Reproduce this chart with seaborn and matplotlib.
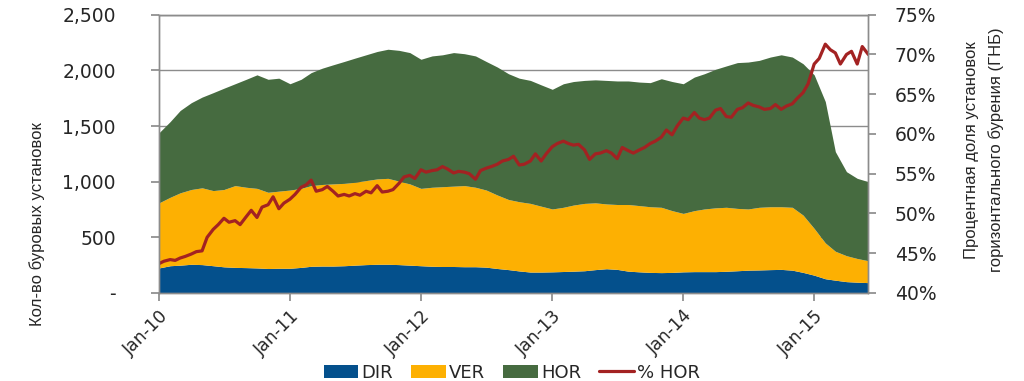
import pandas as pd
import matplotlib
matplotlib.use('Agg')
import matplotlib.pyplot as plt
import matplotlib.dates as mdates
import matplotlib.ticker as mticker
import seaborn as sns

# Monthly rig counts, Jan 2010 - Jun 2015
months = pd.date_range('2010-01-01', '2015-06-01', freq='MS')

dir_rigs = [225, 245, 250, 258, 255, 245, 235, 230, 228, 225, 220, 222,
            222, 230, 240, 242, 242, 245, 250, 255, 258, 258, 255, 250,
            245, 240, 238, 238, 236, 236, 232, 220, 210, 198, 188, 188,
            190, 193, 196, 200, 210, 218, 212, 196, 190, 185, 183, 185,
            190, 192, 192, 192, 195, 200, 205, 207, 210, 212, 205, 185,
            160, 128, 115, 102, 97, 93]

ver_rigs = [585, 615, 650, 672, 690, 675, 695, 735, 722, 715, 685, 693,
            703, 710, 725, 733, 738, 740, 745, 755, 767, 772, 750, 730,
            695, 710, 717, 722, 729, 714, 693, 660, 630, 622, 617, 592,
            565, 577, 594, 605, 600, 582, 583, 599, 595, 590, 587, 555,
            525, 548, 563, 573, 575, 560, 550, 563, 565, 563, 565, 515,
            420, 322, 260, 233, 213, 197]

hor_rigs = [630, 680, 740, 780, 815, 880, 910, 915, 970, 1020, 1015, 1015,
            955, 980, 1015, 1045, 1070, 1095, 1115, 1130, 1145, 1160, 1175, 1180,
            1160, 1180, 1185, 1200, 1185, 1180, 1155, 1150, 1130, 1110, 1105, 1090,
            1075, 1110, 1110, 1105, 1105, 1110, 1110, 1110, 1110, 1115, 1155, 1160,
            1165, 1200, 1215, 1245, 1270, 1310, 1320, 1320, 1345, 1365, 1350, 1360,
            1380, 1270, 895, 755, 720, 710]

# Share of horizontal rigs, twice a month (%)
half_months = pd.date_range('2010-01-01', '2015-06-01', freq='SMS')
pct_hor = [43.7, 44.0, 44.2, 44.1, 44.4, 44.6, 44.9, 45.2, 45.3, 47.0,
           48.0, 48.6, 49.4, 48.9, 49.1, 48.6, 49.6, 50.4, 49.5, 50.8,
           51.1, 52.1, 50.6, 51.3, 51.8, 52.4, 53.3, 53.6, 54.2, 52.8,
           53.0, 53.4, 52.8, 52.2, 52.4, 52.2, 52.5, 52.3, 52.8, 52.6,
           53.5, 52.7, 52.8, 53.0, 53.8, 54.6, 54.8, 54.4, 55.5, 55.2,
           55.4, 55.5, 55.9, 55.6, 55.1, 55.3, 55.2, 55.0, 54.3, 55.4,
           55.7, 55.9, 56.2, 56.6, 56.8, 57.2, 56.1, 56.2, 56.6, 57.5,
           56.6, 57.5, 58.4, 58.8, 59.1, 58.8, 58.6, 58.7, 58.0, 56.8,
           57.5, 57.6, 57.9, 57.6, 56.9, 58.3, 57.9, 57.6, 58.0, 58.3,
           58.8, 59.1, 59.6, 60.5, 59.9, 61.0, 62.0, 61.8, 62.7, 62.0,
           61.8, 62.0, 63.0, 63.2, 62.2, 62.1, 63.1, 63.3, 63.9, 63.6,
           63.4, 63.1, 63.2, 63.7, 63.1, 63.5, 63.8, 64.5, 65.2, 66.3,
           68.8, 69.5, 71.3, 70.6, 70.2, 68.8, 70.0, 70.4, 68.8, 71.0,
           70.0]

labels = ['DIR', 'VER', 'HOR', '% HOR']
colors = ['#04508c', '#fdb002', '#466b40']
line_color = '#a32222'
grid_grey = '#8c8c8c'
label_font = ['Liberation Sans', 'DejaVu Sans']

sns.set_theme(style='white')
plt.rcParams['font.family'] = ['DejaVu Sans']

fig = plt.figure(figsize=(10.24, 3.81), dpi=100)
ax = fig.add_axes([0.1553, 0.231, 0.6927, 0.7303])

ax.stackplot(months, dir_rigs, ver_rigs, hor_rigs, colors=colors,
             labels=labels[:3], linewidth=0)
ax.set_axisbelow(True)
ax.yaxis.grid(True, color=grid_grey, linewidth=1)
ax.set_ylim(0, 2500)
ax.set_yticks(range(0, 2501, 500))
ax.yaxis.set_major_formatter(mticker.FuncFormatter(
    lambda v, p: '-' if v == 0 else f'{v:,.0f}'))
ax.set_xlim(pd.Timestamp('2010-01-01'), pd.Timestamp('2015-06-01'))
ax.xaxis.set_major_locator(mdates.YearLocator())
ax.xaxis.set_major_formatter(mdates.DateFormatter('%b-%y'))

for s in ax.spines.values():
    s.set_color(grid_grey)
    s.set_linewidth(1)

ax.tick_params(axis='y', which='major', left=True, length=6, color=grid_grey,
               labelsize=13.5, pad=25)
ax.tick_params(axis='x', which='major', bottom=True, length=6, color=grid_grey,
               labelsize=12.5, pad=4)
for t in ax.get_xticklabels():
    t.set_rotation(45)
    t.set_ha('right')
    t.set_rotation_mode('anchor')
ax.set_xlabel('')
ax.set_ylabel('')

ax2 = ax.twinx()
line_df = pd.DataFrame({'date': half_months, 'pct': [v / 100 for v in pct_hor]})
sns.lineplot(data=line_df, x='date', y='pct', ax=ax2, color=line_color,
             linewidth=2.3, label=labels[3], legend=False)
ax2.set_ylim(0.40, 0.75)
ax2.set_yticks([0.40, 0.45, 0.50, 0.55, 0.60, 0.65, 0.70, 0.75])
ax2.yaxis.set_major_formatter(mticker.PercentFormatter(1.0, decimals=0))
ax2.tick_params(axis='y', right=True, length=6, color=grid_grey,
                labelsize=13.5, pad=13)
ax2.set_xlim(pd.Timestamp('2010-01-01'), pd.Timestamp('2015-06-01'))
ax2.set_xlabel('')
ax2.set_ylabel('')
for s in ax2.spines.values():
    s.set_color(grid_grey)
    s.set_linewidth(1)

# axis titles placed as in the reference
fig.text(37 / 1024, 1 - 224 / 381, 'Кол-во буровых установок', rotation=90,
         ha='center', va='center', fontsize=12, family=label_font)
fig.text(984 / 1024, 1 - 150 / 381,
         'Процентная доля установок\nгоризонтального бурения (ГНБ)',
         rotation=90, ha='center', va='center', fontsize=12,
         family=label_font, linespacing=1.75, multialignment='center')

h1, l1 = ax.get_legend_handles_labels()
h2, l2 = ax2.get_legend_handles_labels()
fig.legend(h1 + h2, l1 + l2, loc='center', bbox_to_anchor=(0.5, 0.022),
           ncol=4, frameon=False, fontsize=13, handlelength=1.9,
           handleheight=0.7, handletextpad=0.2, columnspacing=1.0)

fig.savefig('out.png', dpi=100)
